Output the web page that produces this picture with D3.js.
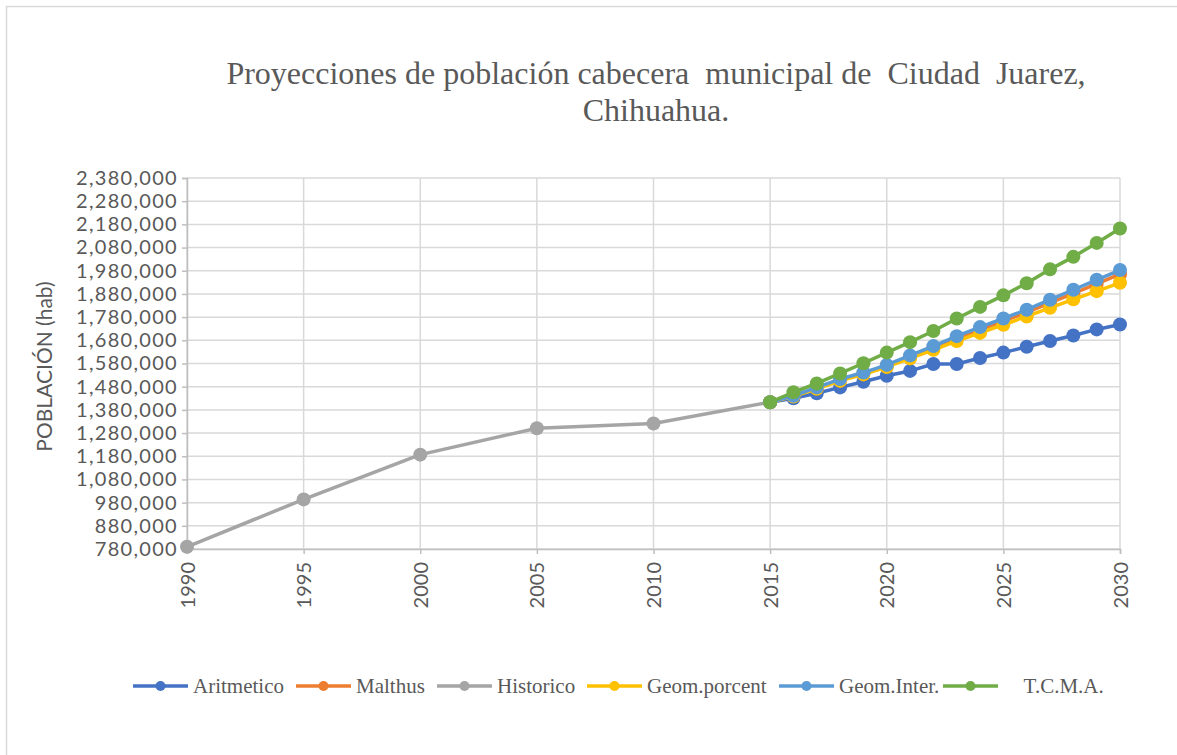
<!DOCTYPE html>
<html>
<head>
<meta charset="utf-8">
<script src="https://cdn.jsdelivr.net/npm/d3@7"></script>
<style>
    body { margin: 0; background: #fff; }
    svg { display: block; }
</style>
</head>
<body>
<svg id="chart" width="1177" height="755"></svg>
<script>
// Proyecciones de poblacion - Ciudad Juarez

const historicYears = [1990, 1995, 2000, 2005, 2010, 2015];
const historico = [789522, 994000, 1187000, 1301000, 1321000, 1413000];

const projYears = [2015, 2016, 2017, 2018, 2019, 2020, 2021, 2022, 2023, 2024, 2025, 2026, 2027, 2028, 2029, 2030];
const aritmetico = [1413000, 1430000, 1452000, 1477000, 1501000, 1527000, 1548000, 1578000, 1578000, 1604000, 1627000, 1652000, 1677000, 1701000, 1727000, 1748000];
const malthus = [1413000, 1440000, 1474000, 1508000, 1537000, 1570000, 1609000, 1648000, 1688000, 1726000, 1763000, 1800000, 1841000, 1882000, 1923000, 1965000];
const geomPorcent = [1413000, 1438000, 1471000, 1505000, 1533000, 1565000, 1602000, 1639000, 1677000, 1712000, 1747000, 1783000, 1820000, 1857000, 1892000, 1928000];
const geomInter = [1413000, 1441000, 1477000, 1513000, 1541000, 1574000, 1615000, 1655000, 1698000, 1737000, 1774000, 1812000, 1855000, 1898000, 1941000, 1983000];
const tcma = [1413000, 1456000, 1494000, 1537000, 1581000, 1627000, 1672000, 1720000, 1774000, 1824000, 1874000, 1926000, 1986000, 2040000, 2100000, 2162000];

const xTickValues = [1990, 1995, 2000, 2005, 2010, 2015, 2020, 2025, 2030];
const yTickValues = [780000, 880000, 980000, 1080000, 1180000, 1280000, 1380000, 1480000, 1580000,
    1680000, 1780000, 1880000, 1980000, 2080000, 2180000, 2280000, 2380000];

const series = [
    { name: 'Aritmetico', years: projYears, values: aritmetico, color: '#4472C4' },
    { name: 'Malthus', years: projYears, values: malthus, color: '#ED7D31' },
    { name: 'Historico', years: historicYears, values: historico, color: '#A5A5A5' },
    { name: 'Geom.porcent', years: projYears, values: geomPorcent, color: '#FFC000' },
    { name: 'Geom.Inter.', years: projYears, values: geomInter, color: '#5B9BD5' },
    { name: '    T.C.M.A.', years: projYears, values: tcma, color: '#70AD47' }
];

const svg = d3.select('#chart');
const width = 1177;
const height = 755;

svg.append('rect')
    .attr('width', width)
    .attr('height', height)
    .attr('fill', '#fff');

// chart area border (left and top edges are inside the picture)
svg.append('path')
    .attr('d', `M6.5,${height} V6.5 H${width}`)
    .attr('fill', 'none')
    .attr('stroke', '#D9D9D9')
    .attr('stroke-width', 1.5);

const margin = { top: 178, right: 57, bottom: 206, left: 187 };
const innerWidth = width - margin.left - margin.right;
const innerHeight = height - margin.top - margin.bottom;

const x = d3.scaleLinear().domain([1990, 2030]).range([0, innerWidth]);
const y = d3.scaleLinear().domain([780000, 2380000]).range([innerHeight, 0]);

const g = svg.append('g')
    .attr('transform', `translate(${margin.left}, ${margin.top})`);

// gridlines
g.append('g')
    .selectAll('line')
    .data(yTickValues)
    .enter()
    .append('line')
    .attr('x1', 0)
    .attr('x2', innerWidth)
    .attr('y1', d => y(d))
    .attr('y2', d => y(d))
    .attr('stroke', '#D9D9D9')
    .attr('stroke-width', 1.5);

g.append('g')
    .selectAll('line')
    .data(xTickValues)
    .enter()
    .append('line')
    .attr('x1', d => x(d))
    .attr('x2', d => x(d))
    .attr('y1', 0)
    .attr('y2', innerHeight)
    .attr('stroke', '#D9D9D9')
    .attr('stroke-width', 1.5);

// axes
const yAxis = g.append('g')
    .call(d3.axisLeft(y).tickValues(yTickValues).tickFormat(d3.format(',')).tickSize(5).tickPadding(4));

const xAxis = g.append('g')
    .attr('transform', `translate(0, ${innerHeight})`)
    .call(d3.axisBottom(x).tickValues(xTickValues).tickFormat(d3.format('d')).tickSize(5));

[yAxis, xAxis].forEach(a => {
    a.attr('font-family', 'Lato, sans-serif').attr('font-size', 20);
    a.select('.domain').attr('stroke', '#BFBFBF').attr('stroke-width', 1.5);
    a.selectAll('.tick line').attr('stroke', '#BFBFBF').attr('stroke-width', 1.5);
    a.selectAll('text').attr('fill', '#595959');
});

yAxis.selectAll('text')
    .attr('letter-spacing', '1.3px');

xAxis.selectAll('text')
    .attr('transform', 'rotate(-90)')
    .attr('text-anchor', 'end')
    .attr('x', -13)
    .attr('y', 0)
    .attr('dy', '0.35em');

// series lines and markers
const line = d3.line()
    .x(d => x(d[0]))
    .y(d => y(d[1]));

series.forEach(s => {
    const pts = s.years.map((yr, i) => [yr, s.values[i]]);
    const sg = g.append('g');

    sg.append('path')
        .datum(pts)
        .attr('d', line)
        .attr('fill', 'none')
        .attr('stroke', s.color)
        .attr('stroke-width', 3.5)
        .attr('stroke-linejoin', 'round');

    sg.selectAll('circle')
        .data(pts)
        .enter()
        .append('circle')
        .attr('cx', d => x(d[0]))
        .attr('cy', d => y(d[1]))
        .attr('r', 7)
        .attr('fill', s.color);
});

// title
const title = svg.append('text')
    .attr('text-anchor', 'middle')
    .attr('fill', '#595959')
    .attr('font-family', '"Liberation Serif", "Times New Roman", serif')
    .attr('font-size', '32px')
    .style('white-space', 'pre');

title.append('tspan')
    .attr('x', 656)
    .attr('y', 84)
    .text('Proyecciones de población cabecera  municipal de  Ciudad  Juarez,');

title.append('tspan')
    .attr('x', 656)
    .attr('y', 121)
    .text('Chihuahua.');

// y axis title
svg.append('text')
    .attr('transform', `translate(52, ${margin.top + innerHeight / 2 + 3}) rotate(-90)`)
    .attr('text-anchor', 'middle')
    .attr('fill', '#595959')
    .attr('font-family', 'Lato, sans-serif')
    .attr('font-size', '21px')
    .text('POBLACIÓN (hab)');

// legend
const legendX = [133, 296, 437, 587, 779, 943];
const legend = svg.append('g')
    .attr('transform', 'translate(0, 686)');

series.forEach((s, i) => {
    const item = legend.append('g')
        .attr('transform', `translate(${legendX[i]}, 0)`);

    item.append('line')
        .attr('x1', 0)
        .attr('x2', 55)
        .attr('y1', 0)
        .attr('y2', 0)
        .attr('stroke', s.color)
        .attr('stroke-width', 3.5);

    item.append('circle')
        .attr('cx', 27.5)
        .attr('r', 5)
        .attr('fill', s.color);

    item.append('text')
        .attr('x', 60)
        .attr('y', 0)
        .attr('dy', '0.33em')
        .attr('fill', '#595959')
        .attr('font-family', '"Liberation Serif", "Times New Roman", serif')
        .attr('font-size', '21px')
        .style('white-space', 'pre')
        .text(s.name);
});
</script>
</body>
</html>
